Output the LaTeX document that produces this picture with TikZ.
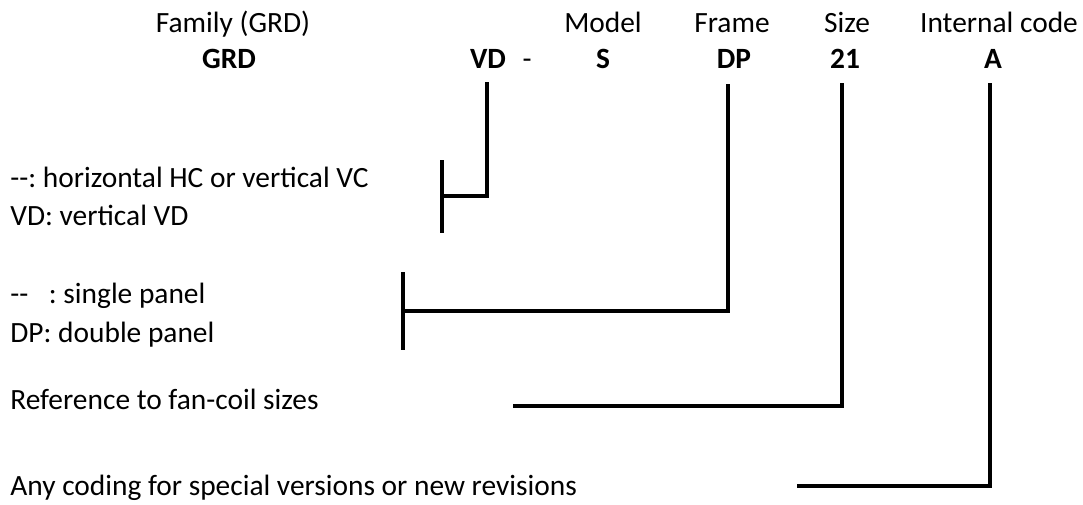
\documentclass[tikz,border=0pt]{standalone}
\usepackage{fontspec}
\setmainfont{Carlito}
\frenchspacing
\usetikzlibrary{positioning}

\begin{document}
\begin{tikzpicture}[
    x=0.5pt, y=-0.5pt,
    every node/.style={font=\fontsize{14.7}{17}\selectfont, inner sep=0pt},
    head/.style={anchor=base},
    code/.style={anchor=base, font=\fontsize{14.7}{17}\selectfont\bfseries},
    desc/.style={anchor=base west},
    lead/.style={line width=1.65pt, black}
]
    \useasboundingbox (0,0) rectangle (1083,504);

    % Code letters
    \node[code] (GRD)  at (229,68) {GRD};
    \node[code] (VD)   at (488,68) {VD};
    \node[code] (dash) at (527,68) {\mdseries-};
    \node[code] (S)    at (603,68) {S};
    \node[code] (DP)   at (734,68) {DP};
    \node[code] (sz)   at (845,68) {21};
    \node[code] (A)    at (993,68) {A};

    % Headings above the codes
    \node[head] (fam)   [above=18pt of GRD.base, anchor=base, xshift=2pt] {Family (GRD)};
    \node[head] (model) [above=18pt of S.base, anchor=base] {Model};
    \node[head] (frame) [above=18pt of DP.base, anchor=base, xshift=-1pt] {Frame};
    \node[head] (size)  [above=18pt of sz.base, anchor=base, xshift=1pt] {Size};
    \node[head] (intc)  [above=18pt of A.base, anchor=base, xshift=3pt] {Internal code};

    % Descriptions on the left
    \node[desc] (hv)  at (10,187) {-{}-: horizontal HC or vertical VC};
    \node[desc] (vv)  at (10,225) {VD: vertical VD};
    \node[desc] (sp)  at (10,303) {-{}-\hspace{0.7em}: single panel};
    \node[desc] (dp)  at (10,342) {DP: double panel};
    \node[desc] (ref) at (10,409) {Reference to fan-coil sizes};
    \node[desc] (any) at (10,495) {Any coding for special versions or new revisions};

    % Leader ends
    \coordinate (vdT)  at (487,82);
    \coordinate (vdC)  at (442,196);
    \coordinate (vdU)  at (442,160);
    \coordinate (vdL)  at (442,233);
    \coordinate (dpT)  at (728,84);
    \coordinate (dpC)  at (403,311);
    \coordinate (dpU)  at (403,272);
    \coordinate (dpL)  at (403,350);
    \coordinate (szT)  at (842,83);
    \coordinate (szE)  at (513,406);
    \coordinate (aT)   at (990,83);
    \coordinate (aE)   at (797,486);

    % Leaders
    \draw[lead] (vdT) |- (vdC);
    \draw[lead] (vdU) -- (vdL);
    \draw[lead] (dpT) |- (dpC);
    \draw[lead] (dpU) -- (dpL);
    \draw[lead] (szT) |- (szE);
    \draw[lead] (aT)  |- (aE);

\end{tikzpicture}
\end{document}
